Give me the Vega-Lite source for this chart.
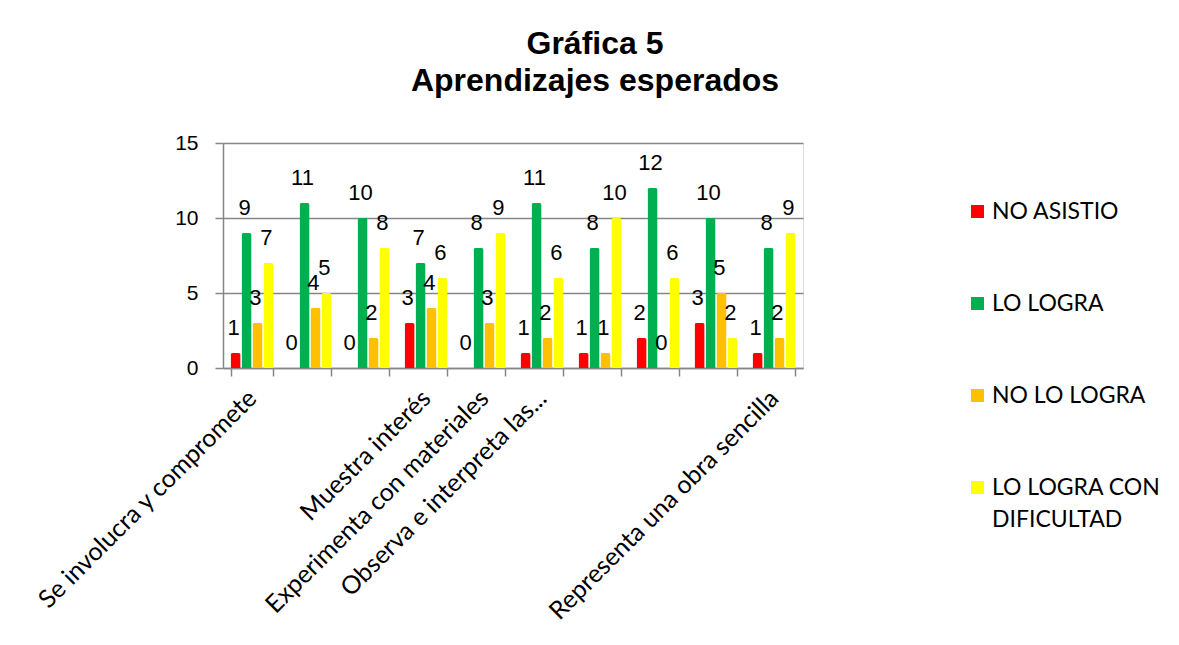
{
  "$schema": "https://vega.github.io/schema/vega-lite/v6.json",
  "width": 580,
  "height": 225,
  "autosize": {"type": "none"},
  "padding": {"left": 223, "top": 143, "right": 376, "bottom": 277},
  "background": "white",
  "title": {
    "text": ["Gráfica 5", "Aprendizajes esperados"],
    "font": "Liberation Sans",
    "fontSize": 32,
    "fontWeight": "bold",
    "color": "#000000",
    "anchor": "middle",
    "dx": 82,
    "offset": 34,
    "lineHeight": 37
  },
  "data": {
    "values": [
      {"cat": "Se involucra y compromete", "serie": "NO ASISTIO", "valor": 1},
      {"cat": "Se involucra y compromete", "serie": "LO LOGRA", "valor": 9},
      {"cat": "Se involucra y compromete", "serie": "NO LO LOGRA", "valor": 3},
      {"cat": "Se involucra y compromete", "serie": "LO LOGRA CON DIFICULTAD", "valor": 7},
      {"cat": "c2", "serie": "NO ASISTIO", "valor": 0},
      {"cat": "c2", "serie": "LO LOGRA", "valor": 11},
      {"cat": "c2", "serie": "NO LO LOGRA", "valor": 4},
      {"cat": "c2", "serie": "LO LOGRA CON DIFICULTAD", "valor": 5},
      {"cat": "c3", "serie": "NO ASISTIO", "valor": 0},
      {"cat": "c3", "serie": "LO LOGRA", "valor": 10},
      {"cat": "c3", "serie": "NO LO LOGRA", "valor": 2},
      {"cat": "c3", "serie": "LO LOGRA CON DIFICULTAD", "valor": 8},
      {"cat": "Muestra interés", "serie": "NO ASISTIO", "valor": 3},
      {"cat": "Muestra interés", "serie": "LO LOGRA", "valor": 7},
      {"cat": "Muestra interés", "serie": "NO LO LOGRA", "valor": 4},
      {"cat": "Muestra interés", "serie": "LO LOGRA CON DIFICULTAD", "valor": 6},
      {"cat": "Experimenta con materiales", "serie": "NO ASISTIO", "valor": 0},
      {"cat": "Experimenta con materiales", "serie": "LO LOGRA", "valor": 8},
      {"cat": "Experimenta con materiales", "serie": "NO LO LOGRA", "valor": 3},
      {"cat": "Experimenta con materiales", "serie": "LO LOGRA CON DIFICULTAD", "valor": 9},
      {"cat": "Observa e interpreta las...", "serie": "NO ASISTIO", "valor": 1},
      {"cat": "Observa e interpreta las...", "serie": "LO LOGRA", "valor": 11},
      {"cat": "Observa e interpreta las...", "serie": "NO LO LOGRA", "valor": 2},
      {"cat": "Observa e interpreta las...", "serie": "LO LOGRA CON DIFICULTAD", "valor": 6},
      {"cat": "c7", "serie": "NO ASISTIO", "valor": 1},
      {"cat": "c7", "serie": "LO LOGRA", "valor": 8},
      {"cat": "c7", "serie": "NO LO LOGRA", "valor": 1},
      {"cat": "c7", "serie": "LO LOGRA CON DIFICULTAD", "valor": 10},
      {"cat": "c8", "serie": "NO ASISTIO", "valor": 2},
      {"cat": "c8", "serie": "LO LOGRA", "valor": 12},
      {"cat": "c8", "serie": "NO LO LOGRA", "valor": 0},
      {"cat": "c8", "serie": "LO LOGRA CON DIFICULTAD", "valor": 6},
      {"cat": "c9", "serie": "NO ASISTIO", "valor": 3},
      {"cat": "c9", "serie": "LO LOGRA", "valor": 10},
      {"cat": "c9", "serie": "NO LO LOGRA", "valor": 5},
      {"cat": "c9", "serie": "LO LOGRA CON DIFICULTAD", "valor": 2},
      {"cat": "Representa una obra sencilla", "serie": "NO ASISTIO", "valor": 1},
      {"cat": "Representa una obra sencilla", "serie": "LO LOGRA", "valor": 8},
      {"cat": "Representa una obra sencilla", "serie": "NO LO LOGRA", "valor": 2},
      {"cat": "Representa una obra sencilla", "serie": "LO LOGRA CON DIFICULTAD", "valor": 9}
    ]
  },
  "encoding": {
    "x": {
      "field": "cat",
      "type": "nominal",
      "sort": null,
      "scale": {"paddingInner": 0.26, "paddingOuter": 0.13},
      "axis": {
        "title": null,
        "labelAngle": -45,
        "labelAlign": "right",
        "labelBaseline": "middle",
        "labelFont": "Lato",
        "labelFontSize": 25,
        "labelColor": "#000000",
        "labelPadding": 18,
        "labelLimit": 0,
        "labelOverlap": false,
        "labelExpr": "indexof(['c2','c3','c7','c8','c9'], datum.value) >= 0 ? '' : datum.label",
        "tickBand": "extent",
        "tickSize": 8,
        "tickColor": "#868686",
        "tickWidth": 1.5,
        "domainColor": "#868686",
        "domainWidth": 1.5
      }
    },
    "xOffset": {
      "field": "serie",
      "type": "nominal",
      "sort": ["NO ASISTIO", "LO LOGRA", "NO LO LOGRA", "LO LOGRA CON DIFICULTAD"],
      "scale": {"paddingInner": 0.08}
    },
    "y": {
      "field": "valor",
      "type": "quantitative",
      "scale": {"domain": [0, 15], "nice": false},
      "axis": {
        "title": null,
        "values": [0, 5, 10, 15],
        "labelFont": "Liberation Sans",
        "labelFontSize": 21,
        "labelColor": "#000000",
        "labelPadding": 17,
        "tickSize": 8,
        "tickColor": "#868686",
        "tickWidth": 1.5,
        "domainColor": "#868686",
        "domainWidth": 1.5,
        "gridColor": "#868686",
        "gridWidth": 1.5
      }
    }
  },
  "layer": [
    {
      "mark": {"type": "bar", "cornerRadiusTopLeft": 2, "cornerRadiusTopRight": 2},
      "encoding": {
        "color": {
          "field": "serie",
          "type": "nominal",
          "scale": {
            "domain": ["NO ASISTIO", "LO LOGRA", "NO LO LOGRA", "LO LOGRA CON DIFICULTAD"],
            "range": ["#FF0000", "#00B050", "#FFC000", "#FFFF00"]
          },
          "legend": {
            "title": null,
            "orient": "none",
            "legendX": 743,
            "legendY": 57,
            "padding": 0,
            "symbolType": "square",
            "symbolSize": 169,
            "symbolStrokeWidth": 0,
            "labelFont": "Lato",
            "labelFontSize": 23,
            "labelColor": "#000000",
            "labelOffset": 3,
            "labelLimit": 400,
            "rowPadding": 68,
            "labelExpr": "datum.label == 'LO LOGRA CON DIFICULTAD' ? ['LO LOGRA CON', 'DIFICULTAD'] : datum.label",
            "encode": {
              "labels": {"update": {"lineHeight": {"value": 32}}}
            }
          }
        }
      }
    },
    {
      "mark": {
        "type": "text",
        "font": "Liberation Sans",
        "fontSize": 22,
        "color": "#000000",
        "baseline": "alphabetic",
        "dx": -2,
        "dy": -18
      },
      "encoding": {
        "text": {"field": "valor", "type": "quantitative"}
      }
    }
  ]
}
